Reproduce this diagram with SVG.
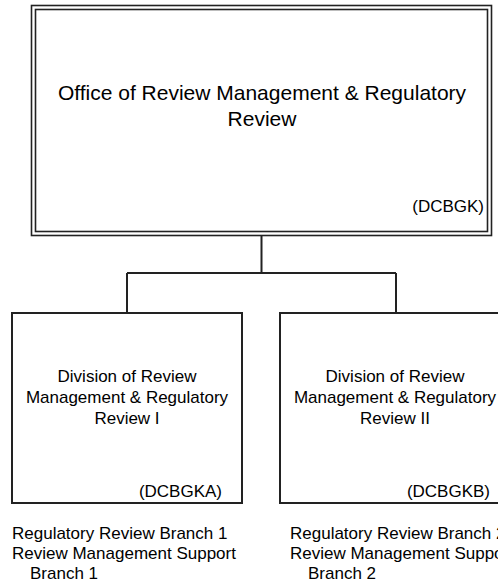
<svg xmlns="http://www.w3.org/2000/svg" width="498" height="585" viewBox="0 0 498 585">
<style>
text{font-family:"Liberation Sans",Arial,sans-serif;fill:#000}
.t{font-size:21px;text-anchor:middle}
.d{font-size:17px;text-anchor:middle}
.c{font-size:17px;text-anchor:end}
.b{font-size:17px}
.box{fill:#fff;stroke:#222;stroke-width:2}
.dbl{fill:none;stroke:#222;stroke-width:1.6}
.ln{fill:none;stroke:#222;stroke-width:2}
</style>
<rect width="498" height="585" fill="#fff"/>
<g id="connectors">
<path class="ln" d="M261.5 236 V273 M127 273 H396 M127 273 V313 M396 273 V313"/>
</g>
<g id="office">
<rect class="dbl" x="31.5" y="5.5" width="460" height="230"/>
<rect class="dbl" x="35.5" y="9.5" width="452" height="222"/>
<text class="t" x="262" y="100">Office of Review Management &amp; Regulatory</text>
<text class="t" x="262" y="126">Review</text>
<text class="c" x="484" y="212">(DCBGK)</text>
</g>
<g id="div1">
<rect class="box" x="12" y="313" width="230" height="190"/>
<text class="d" x="127" y="382">Division of Review</text>
<text class="d" x="127" y="403">Management &amp; Regulatory</text>
<text class="d" x="127" y="424">Review I</text>
<text class="c" x="222" y="497">(DCBGKA)</text>
<text class="b" x="12" y="539">Regulatory Review Branch 1</text>
<text class="b" x="12" y="559">Review Management Support</text>
<text class="b" x="30" y="579">Branch 1</text>
</g>
<g id="div2">
<rect class="box" x="280" y="313" width="230" height="190"/>
<text class="d" x="395" y="382">Division of Review</text>
<text class="d" x="395" y="403">Management &amp; Regulatory</text>
<text class="d" x="395" y="424">Review II</text>
<text class="c" x="490" y="497">(DCBGKB)</text>
<text class="b" x="290" y="539">Regulatory Review Branch 2</text>
<text class="b" x="290" y="559">Review Management Support</text>
<text class="b" x="308" y="579">Branch 2</text>
</g>
</svg>
